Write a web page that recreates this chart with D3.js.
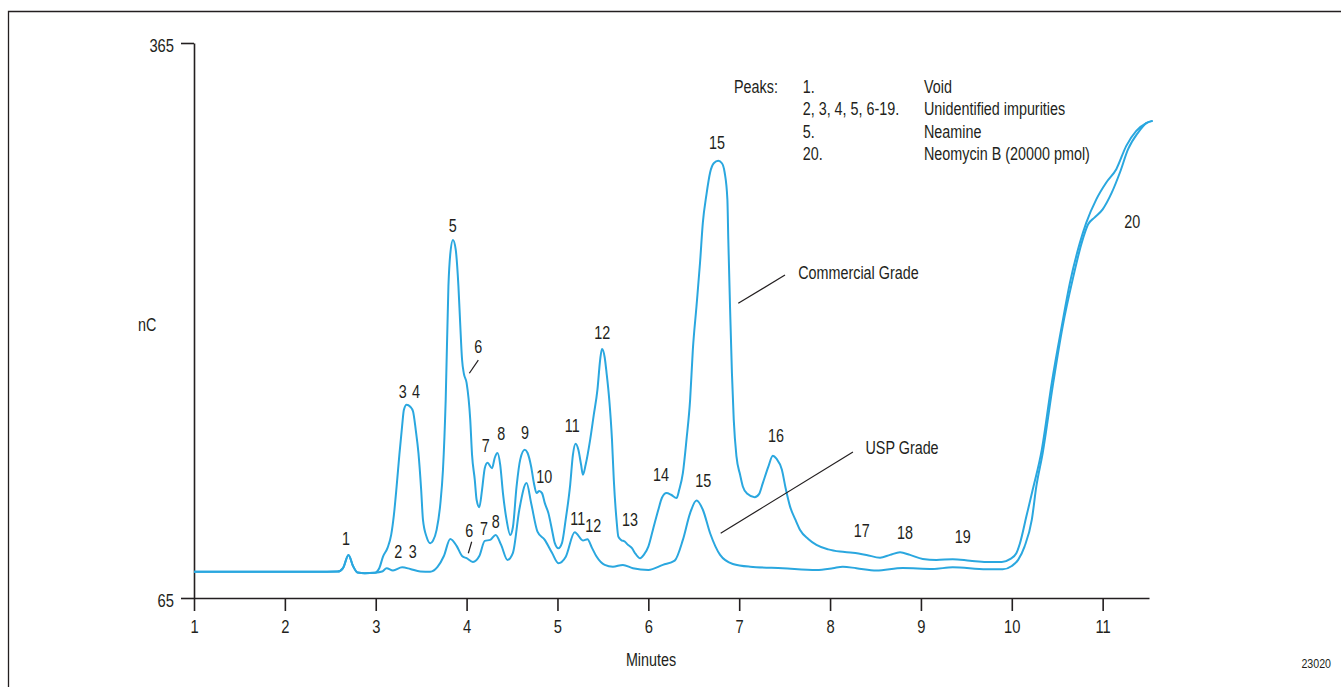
<!DOCTYPE html>
<html>
<head>
<meta charset="utf-8">
<script src="https://cdn.jsdelivr.net/npm/d3@7"></script>
<style>
  body { margin: 0; background: #fff; }
  svg text { font-family: "Liberation Sans", Arial, sans-serif; fill: #231f20; }
</style>
</head>
<body>
<svg id="chart" width="1341" height="687"></svg>
<script>
// Axis ticks
const xTicks = [1, 2, 3, 4, 5, 6, 7, 8, 9, 10, 11];
const yTicks = [65, 365];

// USP grade trace: [minutes, nC]
const uspGrade = [
  [1.00,79.2],[2.17,79.2],[2.58,79.3],[2.64,81.2],[2.70,88.3],[2.75,82.3],[2.80,78.8],[2.88,78.4],[2.99,78.6],
  [3.07,79.3],[3.12,81.1],[3.19,79.9],[3.29,81.6],[3.38,80.7],[3.49,79.3],[3.60,79.2],[3.68,81.8],[3.75,87.7],
  [3.82,96.9],[3.89,93.2],[3.95,87.7],[4.00,86.5],[4.07,84.5],[4.14,87.7],[4.20,95.9],[4.26,96.4],[4.32,99.1],
  [4.38,93.7],[4.45,85.6],[4.51,89.4],[4.58,112.7],[4.66,127.1],[4.71,116.4],[4.78,100.9],[4.86,96.4],[4.94,89.4],
  [5.01,83.8],[5.09,87.2],[5.19,100.6],[5.28,96.1],[5.33,96.8],[5.38,92.1],[5.43,87.4],[5.52,82.9],[5.61,81.9],
  [5.72,82.9],[5.83,81.1],[6.00,80.2],[6.16,82.9],[6.29,85.2],[6.38,96.4],[6.46,110.9],[6.53,117.7],[6.60,112.7],
  [6.68,100.0],[6.79,88.3],[6.93,83.4],[7.12,81.9],[7.48,81.1],[7.85,80.2],[8.03,81.1],[8.14,81.9],[8.29,81.1],
  [8.51,79.8],[8.80,81.2],[9.13,80.7],[9.35,81.6],[9.72,80.5],[9.90,80.5],[10.00,82.3],[10.07,85.6],[10.14,92.8],
  [10.22,107.2],[10.27,125.3],[10.34,143.4],[10.45,179.4],[10.56,211.9],[10.67,237.2],[10.77,257.1],[10.84,267.0],
  [10.91,270.6],[11.00,275.1],[11.10,284.1],[11.19,295.0],[11.28,307.6],[11.39,316.6],[11.48,321.7],[11.55,322.9]
];

// Commercial grade trace: [minutes, nC]
const commercialGrade = [
  [1.00,79.2],[2.17,79.2],[2.58,79.3],[2.64,81.2],[2.70,88.3],[2.75,82.3],[2.80,78.8],[2.88,78.4],[2.99,78.6],
  [3.04,81.2],[3.08,87.4],[3.13,92.1],[3.17,99.1],[3.20,109.9],[3.23,125.3],[3.26,142.4],[3.29,157.8],[3.31,166.8],
  [3.34,169.5],[3.38,168.4],[3.41,165.9],[3.44,156.0],[3.47,143.4],[3.50,123.5],[3.52,107.2],[3.56,98.0],[3.60,94.6],
  [3.63,95.9],[3.67,101.8],[3.71,115.4],[3.74,134.3],[3.77,172.2],[3.80,233.6],[3.82,250.7],[3.85,258.5],[3.88,253.4],
  [3.91,233.6],[3.93,212.8],[3.95,193.9],[3.97,186.3],[4.00,181.3],[4.04,161.4],[4.06,142.4],[4.09,128.9],[4.11,118.1],
  [4.14,114.1],[4.17,123.5],[4.20,135.2],[4.23,138.1],[4.28,135.2],[4.31,140.8],[4.34,143.4],[4.37,137.0],[4.40,121.7],
  [4.44,107.2],[4.48,99.1],[4.51,103.4],[4.55,125.3],[4.59,139.8],[4.64,145.1],[4.67,143.5],[4.71,136.1],[4.74,127.3],
  [4.77,121.7],[4.80,122.9],[4.83,121.7],[4.86,116.4],[4.90,110.9],[4.94,101.8],[4.97,94.8],[5.01,91.9],[5.05,94.8],
  [5.09,107.2],[5.14,126.2],[5.17,142.4],[5.20,148.4],[5.23,145.1],[5.26,137.0],[5.28,131.6],[5.31,137.0],[5.36,150.6],
  [5.40,164.1],[5.44,177.6],[5.47,193.9],[5.49,199.6],[5.52,195.0],[5.54,186.8],[5.57,172.2],[5.60,150.6],[5.62,128.9],
  [5.65,107.2],[5.67,98.2],[5.70,96.4],[5.74,95.5],[5.77,94.0],[5.82,91.9],[5.86,88.8],[5.91,86.5],[5.95,88.3],
  [6.00,92.8],[6.05,101.8],[6.11,112.7],[6.15,119.2],[6.20,121.7],[6.25,120.8],[6.31,119.0],[6.34,123.5],[6.38,132.5],
  [6.42,150.6],[6.46,172.2],[6.49,199.3],[6.53,222.7],[6.57,246.9],[6.60,267.9],[6.64,283.2],[6.68,295.0],[6.72,300.0],
  [6.77,301.3],[6.81,300.0],[6.84,295.0],[6.87,280.5],[6.88,258.9],[6.90,221.0],[6.92,186.7],[6.94,161.4],[6.97,141.5],
  [7.01,131.6],[7.04,125.3],[7.09,121.3],[7.17,119.5],[7.22,121.3],[7.26,127.1],[7.32,135.9],[7.37,141.9],[7.41,140.3],
  [7.47,134.3],[7.51,124.6],[7.56,114.4],[7.62,107.2],[7.67,101.8],[7.76,96.9],[7.85,93.7],[7.98,91.3],[8.11,90.1],
  [8.25,89.5],[8.40,88.3],[8.55,86.8],[8.66,88.3],[8.77,89.7],[8.88,88.3],[9.02,86.1],[9.17,85.6],[9.35,86.0],
  [9.54,85.2],[9.72,84.5],[9.89,84.5],[9.98,86.0],[10.05,89.2],[10.09,94.6],[10.16,109.0],[10.23,123.5],[10.33,145.1],
  [10.44,181.3],[10.55,211.9],[10.64,235.4],[10.75,257.1],[10.82,267.9],[10.93,280.5],[11.04,289.6],[11.15,296.8],
  [11.26,309.4],[11.37,317.5],[11.48,321.7],[11.55,322.9]
];

// Peak numbers: [label, minutes, nC] (anchor at the label's baseline centre)
const peakLabels = [
  ["1",2.673,93.6],["2",3.248,86.8],["3",3.407,86.8],["3",3.297,173.3],["4",3.443,173.3],["5",3.847,262.7],
  ["6",4.129,197.6],["7",4.210,144.1],["8",4.382,150.4],["9",4.643,150.9],["10",4.855,127.3],["11",5.163,154.9],
  ["12",5.493,204.8],["6",4.030,98.1],["7",4.191,99.1],["8",4.320,102.7],["11",5.223,104.5],["12",5.394,100.5],
  ["13",5.798,103.9],["14",6.139,128.4],["15",6.605,125.2],["15",6.755,307.7],["16",7.405,149.5],
  ["17",8.348,98.1],["18",8.824,96.9],["19",9.459,94.9],["20",11.326,264.8]
];

// Trace names with their leader lines: [name, text minutes, text nC, line from (min, nC), line to (min, nC)]
const traceNames = [
  ["Commercial Grade", 7.650, 237.4, 7.504, 239.6, 6.990, 224.3],
  ["USP Grade", 8.390, 142.8, 8.252, 143.9, 6.796, 100.0]
];

// Short pointer ticks for the two "6" shoulders: [from min, from nC, to min, to nC]
const pointerTicks = [
  [4.129, 193.6, 4.030, 186.5],
  [4.056, 95.4, 4.019, 89.2]
];

// Peak key
const keyNumbers = ["1.", "2, 3, 4, 5, 6-19.", "5.", "20."];
const keyNames = ["Void", "Unidentified impurities", "Neamine", "Neomycin B (20000 pmol)"];

const svg = d3.select("#chart");
const ink = "#231f20";
const traceColor = "#2aa7df";
const squeeze = 0.82;   // condensed lettering

const x = d3.scaleLinear().domain([1, 11.51]).range([194, 1149]);
const y = d3.scaleLinear().domain([65, 365]).range([598, 43]);

// Turn x/y placement into a transform so the glyphs can be narrowed horizontally
function condense(sel) {
  sel.each(function () {
    const t = d3.select(this);
    const tx = +t.attr("x") || 0, ty = +t.attr("y") || 0;
    t.attr("x", null).attr("y", null)
      .attr("transform", `translate(${tx},${ty}) scale(${squeeze},1)`);
  });
}

// Page frame (left and top edges)
svg.append("path")
  .attr("d", "M8.5,720V11.5H1400")
  .attr("fill", "none").attr("stroke", ink).attr("stroke-width", 1.3);

// Axes
const gx = svg.append("g")
  .attr("transform", "translate(0,598)")
  .call(d3.axisBottom(x).tickValues(xTicks).tickSize(13).tickPadding(9).tickSizeOuter(0).tickFormat(d3.format("d")));
const gy = svg.append("g")
  .attr("transform", "translate(194,0)")
  .call(d3.axisLeft(y).tickValues(yTicks).tickSize(13).tickPadding(7).tickSizeOuter(0).tickFormat(d3.format("d")));
[gx, gy].forEach(g => {
  g.attr("font-family", null).attr("font-size", 18);
  g.select(".domain").attr("stroke", ink).attr("stroke-width", 1.6);
  g.selectAll(".tick line").attr("stroke", ink).attr("stroke-width", 1.6);
  g.selectAll(".tick text").attr("fill", ink).style("font-size", "18px");
});
gy.selectAll(".tick text").attr("dy", "0.45em");
condense(gx.selectAll(".tick text"));
condense(gy.selectAll(".tick text"));

// Axis titles
svg.append("text").attr("x", 651).attr("y", 666).attr("text-anchor", "middle")
  .style("font-size", "17.5px").text("Minutes").call(condense);
svg.append("text").attr("x", 138).attr("y", 331)
  .style("font-size", "17.5px").text("nC").call(condense);

// Traces
const line = d3.line().x(d => x(d[0])).y(d => y(d[1])).curve(d3.curveMonotoneX);
[uspGrade, commercialGrade].forEach(series => {
  svg.append("path").datum(series)
    .attr("d", line)
    .attr("fill", "none").attr("stroke", traceColor)
    .attr("stroke-width", 2).attr("stroke-linejoin", "round");
});

// Peak numbers
svg.append("g").selectAll("text").data(peakLabels).join("text")
  .attr("x", d => x(d[1])).attr("y", d => y(d[2]))
  .attr("text-anchor", "middle").style("font-size", "17.5px")
  .text(d => d[0])
  .call(condense);

// Pointer ticks
svg.append("g").selectAll("line").data(pointerTicks).join("line")
  .attr("x1", d => x(d[0])).attr("y1", d => y(d[1]))
  .attr("x2", d => x(d[2])).attr("y2", d => y(d[3]))
  .attr("stroke", ink).attr("stroke-width", 1.2);

// Trace names and leader lines
const names = svg.append("g").selectAll("g").data(traceNames).join("g");
names.append("line")
  .attr("x1", d => x(d[3])).attr("y1", d => y(d[4]))
  .attr("x2", d => x(d[5])).attr("y2", d => y(d[6]))
  .attr("stroke", ink).attr("stroke-width", 1.2);
names.append("text")
  .attr("x", d => x(d[1])).attr("y", d => y(d[2]))
  .style("font-size", "17.5px").text(d => d[0])
  .call(condense);

// Peak key
const key = svg.append("g").style("font-size", "17.5px");
key.append("text").attr("x", 734).attr("y", 92.7).text("Peaks:");
keyNumbers.forEach((t, i) => {
  key.append("text").attr("x", 802.7).attr("y", 92.7 + i * 22.4).text(t);
  key.append("text").attr("x", 924).attr("y", 92.7 + i * 22.4).text(keyNames[i]);
});
condense(key.selectAll("text"));

// Figure number
svg.append("text").attr("x", 1331).attr("y", 668).attr("text-anchor", "end")
  .style("font-size", "13px").text("23020").call(condense);
</script>
</body>
</html>
